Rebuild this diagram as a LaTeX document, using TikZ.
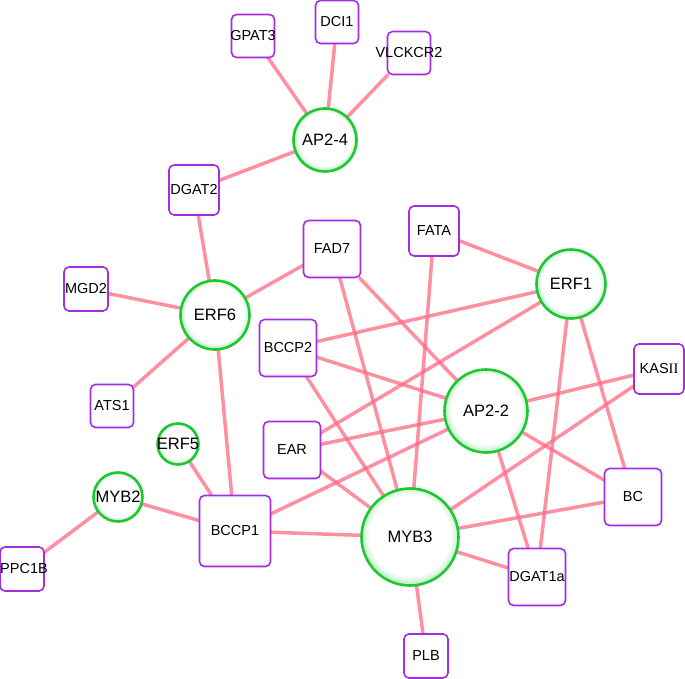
\documentclass[tikz,border=0pt]{standalone}
\usepackage{fontspec}
\setmainfont{Liberation Sans}
\newfontfamily\romfont{Liberation Serif}
\usetikzlibrary{backgrounds}
\definecolor{edgepink}{RGB}{255,105,130}
\definecolor{nodegreen}{RGB}{30,200,50}
\definecolor{halogreen}{RGB}{190,240,196}
\definecolor{nodepurple}{RGB}{165,45,225}
\definecolor{halopurple}{RGB}{232,210,250}
\pgfdeclareradialshading{ringshade}{\pgfpoint{0bp}{1.5bp}}{color(0bp)=(white); color(21bp)=(white); color(25bp)=(halogreen); color(50bp)=(halogreen)}
\pgfdeclareverticalshading{boxshade}{100bp}{color(0bp)=(halopurple); color(25bp)=(halopurple); color(28bp)=(white); color(100bp)=(white)}
\newcommand{\lb}[1]{\makebox[0pt]{#1}}
\tikzset{
  tf/.style={circle, draw=nodegreen, line width=2.6bp, shading=ringshade, inner sep=0pt, outer sep=0pt, font=\fontsize{16.5bp}{18bp}\selectfont},
  gene/.style={rectangle, rounded corners=5bp, draw=nodepurple, line width=1.6bp, shading=boxshade, inner sep=0pt, outer sep=0pt, font=\fontsize{14.5bp}{16bp}\selectfont},
  link/.style={draw=edgepink, draw opacity=0.75, line width=3.5bp}
}
\begin{document}
\begin{tikzpicture}[x=1bp,y=-1bp]
\useasboundingbox (0,0) rectangle (685,679);
% transcription factors
\node[tf, minimum size=63bp] (ap24) at (325,140) {\lb{AP2-4}};
\node[tf, minimum size=69bp] (erf1) at (571,284) {\lb{ERF1}};
\node[tf, minimum size=69bp] (erf6) at (215,315) {\lb{ERF6}};
\node[tf, minimum size=41bp] (erf5) at (178,444) {\lb{ERF5}};
\node[tf, minimum size=83bp] (ap22) at (486,411) {\lb{AP2-2}};
\node[tf, minimum size=49bp] (myb2) at (118,497) {\lb{MYB2}};
\node[tf, minimum size=97bp] (myb3) at (410,537) {\lb{MYB3}};
% genes
\node[gene, minimum size=43bp] (gpat3) at (253,36) {\lb{GPAT3}};
\node[gene, minimum size=43bp] (dci1) at (337,22) {\lb{DCI1}};
\node[gene, minimum size=43bp] (vlckcr2) at (409,53) {\lb{VLCKCR2}};
\node[gene, minimum size=50bp] (dgat2) at (194,190) {\lb{DGAT2}};
\node[gene, minimum size=57bp] (fad7) at (332,249) {\lb{FAD7}};
\node[gene, minimum size=50bp] (fata) at (434,231) {\lb{FATA}};
\node[gene, minimum size=44bp] (mgd2) at (86,289) {\lb{MGD2}};
\node[gene, minimum size=57bp] (bccp2) at (288,348) {\lb{BCCP2}};
\node[gene, minimum size=43bp] (ats1) at (112,406) {\lb{ATS1}};
\node[gene, minimum size=57bp] (ear) at (292,450) {\lb{EAR}};
\node[gene, minimum size=50bp] (kas) at (659,369) {\lb{KAS{\romfont II}}};
\node[gene, minimum size=44bp] (ppc1b) at (22,569) {\lb{\hspace{4bp}PPC1B}};
\node[gene, minimum size=71bp] (bccp1) at (235,531) {\lb{BCCP1}};
\node[gene, minimum size=57bp] (bc) at (633,497) {\lb{BC}};
\node[gene, minimum size=57bp] (dgat1a) at (537,577) {\lb{DGAT1a}};
\node[gene, minimum size=44bp] (plb) at (426,656) {\lb{PLB}};
% connectors
\begin{pgfonlayer}{background}
\draw[link] (ap24) -- (gpat3);
\draw[link] (ap24) -- (dci1);
\draw[link] (ap24) -- (vlckcr2);
\draw[link] (ap24) -- (dgat2);
\draw[link] (erf6) -- (dgat2);
\draw[link] (erf6) -- (mgd2);
\draw[link] (erf6) -- (ats1);
\draw[link] (erf6) -- (fad7);
\draw[link] (erf6) -- (bccp1);
\draw[link] (bccp1) -- (erf5);
\draw[link] (bccp1) -- (myb2);
\draw[link] (bccp1) -- (myb3);
\draw[link] (bccp1) -- (ap22);
\draw[link] (myb2) -- (ppc1b);
\draw[link] (fad7) -- (myb3);
\draw[link] (fad7) -- (ap22);
\draw[link] (fata) -- (erf1);
\draw[link] (fata) -- (myb3);
\draw[link] (erf1) -- (bccp2);
\draw[link] (erf1) -- (ear);
\draw[link] (erf1) -- (dgat1a);
\draw[link] (erf1) -- (bc);
\draw[link] (bccp2) -- (ap22);
\draw[link] (bccp2) -- (myb3);
\draw[link] (ear) -- (ap22);
\draw[link] (ear) -- (myb3);
\draw[link] (ap22) -- (kas);
\draw[link] (ap22) -- (bc);
\draw[link] (ap22) -- (dgat1a);
\draw[link] (kas) -- (myb3);
\draw[link] (myb3) -- (bc);
\draw[link] (myb3) -- (dgat1a);
\draw[link] (myb3) -- (plb);
\end{pgfonlayer}
\end{tikzpicture}
\end{document}
